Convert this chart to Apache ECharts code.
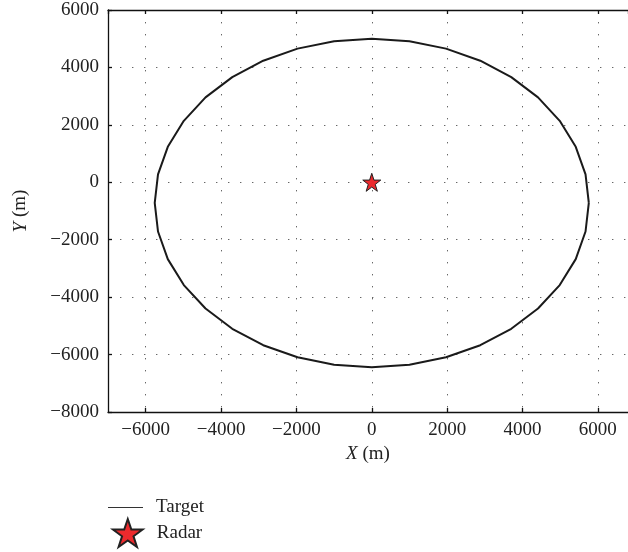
<!DOCTYPE html>
<html>
<head>
<meta charset="utf-8">
<script src="https://cdn.jsdelivr.net/npm/echarts@6/dist/echarts.min.js"></script>
<style>
html,body{margin:0;padding:0;background:#fff;}
#chart{width:628px;height:552px;}
</style>
</head>
<body>
<div id="chart"></div>
<script>
// Target trajectory points (X m, Y m), going round counter-clockwise from the right edge
const targetX = [5760, 5673, 5413, 4988, 4412, 3702, 2880, 1970, 1000, 0,
                 -1000, -1970, -2880, -3702, -4412, -4988, -5413, -5673, -5760,
                 -5673, -5413, -4988, -4412, -3702, -2880, -1970, -1000, 0,
                 1000, 1970, 2880, 3702, 4412, 4988, 5413, 5673, 5760];
const targetY = [-720, 274, 1236, 2140, 2957, 3662, 4234, 4655, 4913, 5000,
                 4913, 4655, 4234, 3662, 2957, 2140, 1236, 274, -720,
                 -1714, -2676, -3580, -4397, -5102, -5674, -6095, -6353, -6440,
                 -6353, -6095, -5674, -5102, -4397, -3580, -2676, -1714, -720];
// Radar position
const radarX = [0];
const radarY = [0];
// Axis ranges / ticks (the picture is cut at its right edge, near X = 6800)
const xRange = [-7000, 6800];
const yRange = [-8000, 6000];
const yStep = 2000;
const seriesNames = ['Target', 'Radar'];

const FONT = 'Liberation Serif';
const FS = 19;
const STAR = 'path://M50,2 L61.5,36 L97.5,36 L68.5,57.5 L79.5,92 L50,71 L20.5,92 L31.5,57.5 L2.5,36 L38.5,36 Z';

const targetData = targetX.map((x, i) => [x, targetY[i]]);
const radarData = radarX.map((x, i) => [x, radarY[i]]);

const axisLineStyle = { color: '#111', width: 1.3 };
const gridLine = { show: true, lineStyle: { color: '#666', width: 1, type: [1.4, 10.6] } };
const fmt = v => (v < 0 ? '\u2212' + Math.abs(v) : String(v));

const chart = echarts.init(document.getElementById('chart'), null, { renderer: 'canvas' });
chart.setOption({
  animation: false,
  backgroundColor: '#fff',
  grid: { left: 108, top: 10, width: 520, height: 402, containLabel: false },
  xAxis: [{
    type: 'value', min: xRange[0], max: xRange[1], splitNumber: 7,
    position: 'bottom',
    axisLine: { show: true, onZero: false, lineStyle: axisLineStyle },
    axisTick: { show: true, inside: true, length: 4, lineStyle: axisLineStyle },
    axisLabel: { fontFamily: FONT, fontSize: FS, color: '#222', margin: 9, showMinLabel: false, showMaxLabel: false, formatter: fmt },
    splitLine: gridLine,
    name: '{i|X} (m)', nameLocation: 'middle', nameGap: 21,
    nameTextStyle: { fontFamily: FONT, fontSize: FS, color: '#222', rich: { i: { fontFamily: FONT, fontSize: FS, fontStyle: 'italic', color: '#222' } } }
  }, {
    type: 'value', min: xRange[0], max: xRange[1], splitNumber: 7,
    position: 'top',
    axisLine: { show: true, onZero: false, lineStyle: axisLineStyle },
    axisTick: { show: true, inside: true, length: 4, lineStyle: axisLineStyle },
    axisLabel: { show: false }, splitLine: { show: false }
  }],
  yAxis: [{
    type: 'value', min: yRange[0], max: yRange[1], interval: yStep,
    position: 'left',
    axisLine: { show: true, onZero: false, lineStyle: axisLineStyle },
    axisTick: { show: true, inside: true, length: 4, lineStyle: axisLineStyle },
    axisLabel: { fontFamily: FONT, fontSize: FS, color: '#222', margin: 9, formatter: fmt },
    splitLine: gridLine,
    name: '{i|Y} (m)', nameLocation: 'middle', nameGap: 78, nameRotate: 90,
    nameTextStyle: { fontFamily: FONT, fontSize: FS, color: '#222', rich: { i: { fontFamily: FONT, fontSize: FS, fontStyle: 'italic', color: '#222' } } }
  }],
  legend: [{
    data: [{ name: seriesNames[0], icon: 'rect' }], orient: 'vertical', left: 108, top: 498, padding: 0,
    itemWidth: 35, itemHeight: 1.2,
    itemStyle: { color: '#333', borderWidth: 0 },
    textStyle: { fontFamily: FONT, fontSize: FS, color: '#222', padding: [0, 0, 0, 8] }
  }, {
    data: [{ name: seriesNames[1], icon: STAR }], orient: 'vertical', left: 112, top: 518, padding: 0,
    itemWidth: 30, itemHeight: 28,
    textStyle: { fontFamily: FONT, fontSize: FS, color: '#222', padding: [0, 0, 0, 9] }
  }],
  series: [{
    name: seriesNames[0], type: 'line', data: targetData, xAxisIndex: 0, yAxisIndex: 0,
    showSymbol: false, symbol: 'none', smooth: false, z: 2,
    lineStyle: { color: '#1a1a1a', width: 2 }, itemStyle: { color: '#1a1a1a' }
  }, {
    name: seriesNames[1], type: 'scatter', data: radarData, xAxisIndex: 0, yAxisIndex: 0,
    symbol: STAR, symbolSize: 18, z: 5,
    itemStyle: { color: '#ec2a2d', borderColor: '#222', borderWidth: 1, opacity: 1 }
  }]
});
</script>
</body>
</html>
